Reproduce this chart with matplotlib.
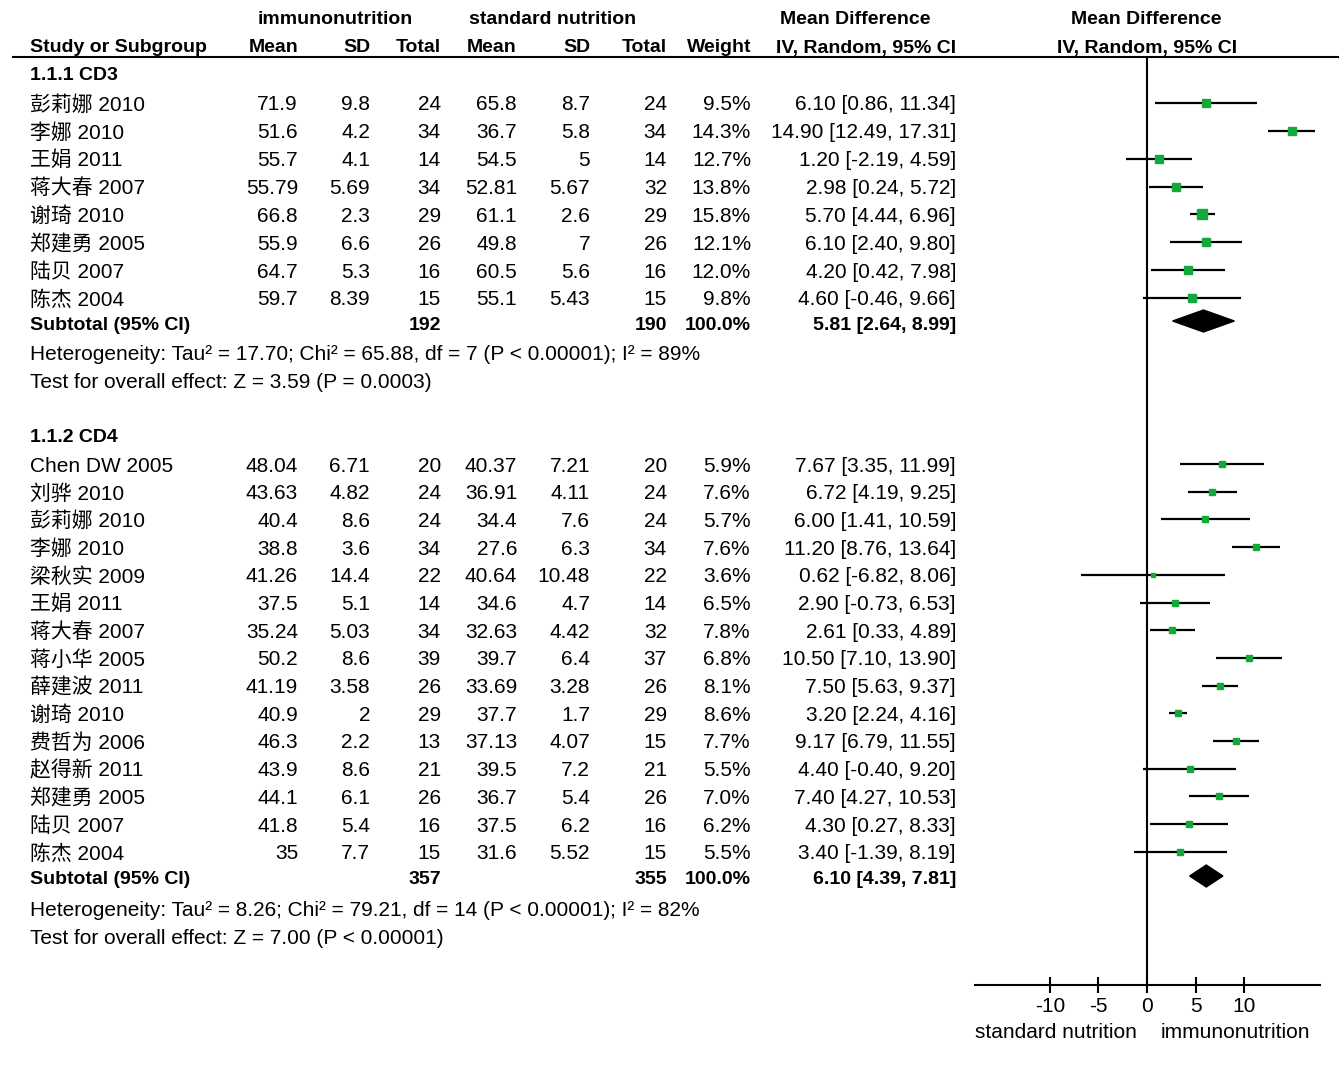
import matplotlib
matplotlib.use('Agg')
import matplotlib.pyplot as plt
from matplotlib.patches import Polygon
import numpy as np

plt.rcParams['font.family'] = ['Liberation Sans', 'Noto Sans CJK SC']

# ---- data: subgroup 1.1.1 CD3
cd3_names = ['彭莉娜 2010', '李娜 2010', '王娟 2011', '蒋大春 2007', '谢琦 2010',
             '郑建勇 2005', '陆贝 2007', '陈杰 2004']
cd3_imm_mean = ['71.9', '51.6', '55.7', '55.79', '66.8', '55.9', '64.7', '59.7']
cd3_imm_sd = ['9.8', '4.2', '4.1', '5.69', '2.3', '6.6', '5.3', '8.39']
cd3_imm_n = [24, 34, 14, 34, 29, 26, 16, 15]
cd3_std_mean = ['65.8', '36.7', '54.5', '52.81', '61.1', '49.8', '60.5', '55.1']
cd3_std_sd = ['8.7', '5.8', '5', '5.67', '2.6', '7', '5.6', '5.43']
cd3_std_n = [24, 34, 14, 32, 29, 26, 16, 15]
cd3_weight = [9.5, 14.3, 12.7, 13.8, 15.8, 12.1, 12.0, 9.8]
cd3_md = [6.10, 14.90, 1.20, 2.98, 5.70, 6.10, 4.20, 4.60]
cd3_lo = [0.86, 12.49, -2.19, 0.24, 4.44, 2.40, 0.42, -0.46]
cd3_hi = [11.34, 17.31, 4.59, 5.72, 6.96, 9.80, 7.98, 9.66]
cd3_total = (192, 190, 5.81, 2.64, 8.99)
cd3_het = 'Heterogeneity: Tau² = 17.70; Chi² = 65.88, df = 7 (P < 0.00001); I² = 89%'
cd3_test = 'Test for overall effect: Z = 3.59 (P = 0.0003)'

# ---- data: subgroup 1.1.2 CD4
cd4_names = ['Chen DW 2005', '刘骅 2010', '彭莉娜 2010', '李娜 2010', '梁秋实 2009',
             '王娟 2011', '蒋大春 2007', '蒋小华 2005', '薛建波 2011', '谢琦 2010',
             '费哲为 2006', '赵得新 2011', '郑建勇 2005', '陆贝 2007', '陈杰 2004']
cd4_imm_mean = ['48.04', '43.63', '40.4', '38.8', '41.26', '37.5', '35.24', '50.2',
                '41.19', '40.9', '46.3', '43.9', '44.1', '41.8', '35']
cd4_imm_sd = ['6.71', '4.82', '8.6', '3.6', '14.4', '5.1', '5.03', '8.6', '3.58',
              '2', '2.2', '8.6', '6.1', '5.4', '7.7']
cd4_imm_n = [20, 24, 24, 34, 22, 14, 34, 39, 26, 29, 13, 21, 26, 16, 15]
cd4_std_mean = ['40.37', '36.91', '34.4', '27.6', '40.64', '34.6', '32.63', '39.7',
                '33.69', '37.7', '37.13', '39.5', '36.7', '37.5', '31.6']
cd4_std_sd = ['7.21', '4.11', '7.6', '6.3', '10.48', '4.7', '4.42', '6.4', '3.28',
              '1.7', '4.07', '7.2', '5.4', '6.2', '5.52']
cd4_std_n = [20, 24, 24, 34, 22, 14, 32, 37, 26, 29, 15, 21, 26, 16, 15]
cd4_weight = [5.9, 7.6, 5.7, 7.6, 3.6, 6.5, 7.8, 6.8, 8.1, 8.6, 7.7, 5.5, 7.0, 6.2, 5.5]
cd4_md = [7.67, 6.72, 6.00, 11.20, 0.62, 2.90, 2.61, 10.50, 7.50, 3.20, 9.17, 4.40,
          7.40, 4.30, 3.40]
cd4_lo = [3.35, 4.19, 1.41, 8.76, -6.82, -0.73, 0.33, 7.10, 5.63, 2.24, 6.79, -0.40,
          4.27, 0.27, -1.39]
cd4_hi = [11.99, 9.25, 10.59, 13.64, 8.06, 6.53, 4.89, 13.90, 9.37, 4.16, 11.55, 9.20,
          10.53, 8.33, 8.19]
cd4_total = (357, 355, 6.10, 4.39, 7.81)
cd4_het = 'Heterogeneity: Tau² = 8.26; Chi² = 79.21, df = 14 (P < 0.00001); I² = 82%'
cd4_test = 'Test for overall effect: Z = 7.00 (P < 0.00001)'

ticks = [-10, -5, 0, 5, 10]

W, H = 1340, 1066
fig = plt.figure(figsize=(W / 100, H / 100), dpi=100)
fig.patch.set_facecolor('white')

# text layer in pixel coordinates
tab = fig.add_axes([0, 0, 1, 1])
tab.set_xlim(0, W)
tab.set_ylim(H, 0)
tab.axis('off')

# forest panel
x0, x1, ytop, ybot = 975, 1320, 57, 985
fa = fig.add_axes([x0 / W, (H - ybot) / H, (x1 - x0) / W, (ybot - ytop) / H])
fa.set_xlim(-17.7, 17.8)
fa.set_ylim(ybot, ytop)
fa.patch.set_alpha(0)
for s in ['top', 'left', 'right']:
    fa.spines[s].set_visible(False)
fa.spines['bottom'].set_linewidth(1.5)
fa.set_yticks([])
fa.set_xticks(ticks)
fa.set_xticklabels([str(t) for t in ticks])
fa.tick_params(axis='x', direction='inout', length=11, width=1.5, labelsize=15, pad=3)
fa.axvline(0, color='black', lw=1.5)

fs = 15      # regular text
fsb = 14     # bold text
dy = 2       # small downward nudge for text baselines
cols = [298, 370, 441, 517, 590, 667, 751, 956]   # right edges of numeric columns


def put(x, y, s, ha='right', bold=False):
    tab.text(x, y + dy, s, ha=ha, va='center', fontsize=fsb if bold else fs,
             fontweight='bold' if bold else 'normal', color='black')


# header
put(335, 18, 'immunonutrition', ha='center', bold=True)
put(553, 18, 'standard nutrition', ha='center', bold=True)
put(855, 18, 'Mean Difference', ha='center', bold=True)
put(1146, 18, 'Mean Difference', ha='center', bold=True)
put(30, 46, 'Study or Subgroup', ha='left', bold=True)
for x, lab in zip(cols, ['Mean', 'SD', 'Total', 'Mean', 'SD', 'Total', 'Weight',
                         'IV, Random, 95% CI']):
    put(x, 46, lab, bold=True)
put(1147, 46, 'IV, Random, 95% CI', ha='center', bold=True)
tab.plot([13, 1338], [57, 57], color='black', lw=1.5)


def subgroup(title, y_title, y0, step, names, im, isd, inn, sm, ssd, sn, w, md, lo, hi,
             total, y_sub, het, test):
    put(30, y_title, title, ha='left', bold=True)
    for i in range(len(names)):
        y = y0 + i * step
        put(30, y, names[i], ha='left')
        vals = [im[i], isd[i], str(inn[i]), sm[i], ssd[i], str(sn[i]),
                '%.1f%%' % w[i], '%.2f [%.2f, %.2f]' % (md[i], lo[i], hi[i])]
        for x, v in zip(cols, vals):
            put(x, y, v)
        fa.plot([lo[i], hi[i]], [y, y], color='black', lw=1.6, clip_on=True,
                solid_capstyle='butt')
        fa.plot(md[i], y, marker='s', color='#12a83a', mec='#12a83a',
                ms=np.sqrt(w[i]) * 1.65, zorder=3)
    put(30, y_sub, 'Subtotal (95% CI)', ha='left', bold=True)
    put(cols[2], y_sub, str(total[0]), bold=True)
    put(cols[5], y_sub, str(total[1]), bold=True)
    put(cols[6], y_sub, '100.0%', bold=True)
    put(cols[7], y_sub, '%.2f [%.2f, %.2f]' % (total[2], total[3], total[4]), bold=True)
    dia = Polygon([[total[3], y_sub - 2], [total[2], y_sub - 13],
                   [total[4], y_sub - 2], [total[2], y_sub + 9]],
                  closed=True, color='black')
    fa.add_patch(dia)
    put(30, y_sub + 30, het, ha='left')
    put(30, y_sub + 58, test, ha='left')


subgroup('1.1.1 CD3', 74, 103, 27.85, cd3_names, cd3_imm_mean, cd3_imm_sd, cd3_imm_n,
         cd3_std_mean, cd3_std_sd, cd3_std_n, cd3_weight, cd3_md, cd3_lo, cd3_hi,
         cd3_total, 323, cd3_het, cd3_test)
subgroup('1.1.2 CD4', 435, 464, 27.7, cd4_names, cd4_imm_mean, cd4_imm_sd, cd4_imm_n,
         cd4_std_mean, cd4_std_sd, cd4_std_n, cd4_weight, cd4_md, cd4_lo, cd4_hi,
         cd4_total, 878, cd4_het, cd4_test)

# favours labels
put(1056, 1030, 'standard nutrition', ha='center')
put(1235, 1030, 'immunonutrition', ha='center')

plt.savefig('out.png', dpi=100, facecolor='white')
